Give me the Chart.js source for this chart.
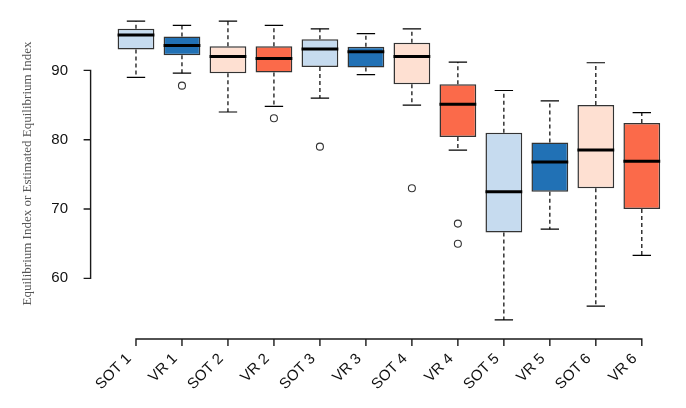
<!DOCTYPE html>
<html>
<head>
<meta charset="utf-8">
<script src="https://cdn.jsdelivr.net/npm/chart.js@4"></script>
<style>
  html, body { margin: 0; padding: 0; background: #fff; }
  #wrap { width: 686px; height: 408px; }
</style>
</head>
<body>
<div id="wrap"><canvas id="boxChart" width="686" height="408"></canvas></div>
<script>
// categories and box statistics
const categories = ['SOT 1', 'VR 1', 'SOT 2', 'VR 2', 'SOT 3', 'VR 3',
                    'SOT 4', 'VR 4', 'SOT 5', 'VR 5', 'SOT 6', 'VR 6'];
const whiskerLow  = [89.0, 89.6, 84.0, 84.8, 86.0, 89.4, 85.0, 78.5, 54.0, 67.1, 56.0, 63.3];
const q1          = [93.0, 92.2, 89.6, 89.7, 90.5, 90.4, 88.0, 80.4, 66.6, 72.5, 73.0, 70.0];
const median      = [95.1, 93.6, 92.0, 91.7, 93.1, 92.7, 92.0, 85.1, 72.5, 76.8, 78.5, 76.9];
const q3          = [96.0, 94.9, 93.5, 93.5, 94.5, 93.4, 94.0, 88.0, 81.0, 79.6, 85.0, 82.4];
const whiskerHigh = [97.1, 96.5, 97.1, 96.5, 96.0, 95.3, 96.0, 91.2, 87.1, 85.6, 91.1, 83.9];
const outliers    = [[], [87.8], [], [83.1], [79.0], [], [73.0], [67.9, 65.0], [], [], [], []];
const yTicks = [60, 70, 80, 90];

const boxColors = ['#c6dbef', '#2171b5', '#fee0d2', '#fb6a4a'];

const positions = categories.map((c, i) => i + 1);
const boxData = positions.map((x, i) => ({ x: x, y: [q1[i], q3[i]] }));
const outlierData = [];
outliers.forEach((vals, i) => vals.forEach(v => outlierData.push({ x: i + 1, y: v })));

// whiskers, caps, medians and R-style axes
const boxExtras = {
  id: 'boxExtras',
  afterDraw(chart) {
    const ctx = chart.ctx;
    const xs = chart.scales.x, ys = chart.scales.y;
    const meta = chart.getDatasetMeta(0);
    ctx.save();
    positions.forEach((pos, i) => {
      const half = meta.data[i].width / 2;
      const cx = xs.getPixelForValue(pos);
      // dashed whiskers
      ctx.strokeStyle = '#000';
      ctx.lineWidth = 1.2;
      ctx.setLineDash([4, 3]);
      ctx.beginPath();
      ctx.moveTo(cx, ys.getPixelForValue(q3[i]));
      ctx.lineTo(cx, ys.getPixelForValue(whiskerHigh[i]));
      ctx.moveTo(cx, ys.getPixelForValue(q1[i]));
      ctx.lineTo(cx, ys.getPixelForValue(whiskerLow[i]));
      ctx.stroke();
      // caps
      ctx.setLineDash([]);
      ctx.beginPath();
      [whiskerHigh[i], whiskerLow[i]].forEach(v => {
        const py = ys.getPixelForValue(v);
        ctx.moveTo(cx - half / 2, py);
        ctx.lineTo(cx + half / 2, py);
      });
      ctx.stroke();
      // median
      ctx.lineWidth = 3;
      ctx.beginPath();
      const my = ys.getPixelForValue(median[i]);
      ctx.moveTo(cx - half, my);
      ctx.lineTo(cx + half, my);
      ctx.stroke();
    });

    ctx.setLineDash([]);
    ctx.strokeStyle = '#1a1a1a';
    ctx.lineWidth = 1.4;
    ctx.lineJoin = 'miter';
    // y axis: bracket from the 90 tick down to the 60 tick, plus middle ticks
    const left = chart.chartArea.left + 0.6;
    const yTop = ys.getPixelForValue(yTicks[yTicks.length - 1]);
    const yBot = ys.getPixelForValue(yTicks[0]);
    ctx.beginPath();
    ctx.moveTo(left - 7, yTop);
    ctx.lineTo(left, yTop);
    ctx.lineTo(left, yBot);
    ctx.lineTo(left - 7, yBot);
    ctx.stroke();
    ctx.beginPath();
    yTicks.slice(1, -1).forEach(v => {
      const py = ys.getPixelForValue(v);
      ctx.moveTo(left, py);
      ctx.lineTo(left - 7, py);
    });
    ctx.stroke();

    // x axis: line from first to last category, with tick marks
    const bottom = chart.chartArea.bottom;
    ctx.beginPath();
    ctx.moveTo(xs.getPixelForValue(1), bottom + 7);
    ctx.lineTo(xs.getPixelForValue(1), bottom);
    ctx.lineTo(xs.getPixelForValue(categories.length), bottom);
    ctx.lineTo(xs.getPixelForValue(categories.length), bottom + 7);
    positions.slice(1, -1).forEach(p => {
      const px = xs.getPixelForValue(p);
      ctx.moveTo(px, bottom);
      ctx.lineTo(px, bottom + 7);
    });
    ctx.stroke();
    ctx.restore();
  }
};

const ctx = document.getElementById('boxChart').getContext('2d');
const chart = new Chart(ctx, {
  type: 'bar',
  data: {
    datasets: [{
      type: 'bar',
      data: boxData,
      backgroundColor: positions.map((p, i) => boxColors[i % 4]),
      borderColor: '#333',
      borderWidth: 1.5,
      borderSkipped: false,
      barPercentage: 0.8,
      categoryPercentage: 1.0
    }, {
      type: 'line',
      data: outlierData,
      showLine: false,
      pointStyle: 'circle',
      pointRadius: 3.5,
      pointBorderWidth: 1.1,
      pointBorderColor: '#333',
      pointBackgroundColor: 'rgba(255,255,255,0)'
    }]
  },
  options: {
    responsive: false,
    animation: false,
    layout: { padding: { top: 8, right: 1, left: 0, bottom: 0 } },
    plugins: { legend: { display: false }, tooltip: { enabled: false } },
    scales: {
      x: {
        type: 'linear',
        offset: false,
        min: 0,
        max: 12.85,
        afterBuildTicks: axis => { axis.ticks = positions.map(v => ({ value: v })); },
        afterFit: axis => { axis.height = 69; axis.paddingLeft = 0; axis.paddingRight = 0; },
        border: { display: false },
        grid: { display: false },
        ticks: {
          autoSkip: false,
          minRotation: 45,
          maxRotation: 45,
          padding: 3,
          labelOffset: -7,
          color: '#111',
          font: { family: 'Liberation Sans', size: 15 },
          callback: v => categories[v - 1]
        }
      },
      y: {
        min: 51.25,
        max: 99,
        afterBuildTicks: axis => { axis.ticks = yTicks.map(v => ({ value: v })); },
        afterFit: axis => { axis.width = 90; axis.paddingTop = 0; axis.paddingBottom = 0; },
        border: { display: false },
        grid: { display: false },
        ticks: {
          padding: 14,
          color: '#111',
          font: { family: 'Liberation Sans', size: 15 }
        },
        title: {
          display: true,
          text: 'Equilibrium Index or Estimated Equilibrium Index',
          color: '#555',
          font: { family: 'Liberation Serif', size: 13 },
          padding: { top: 20, bottom: 0 }
        }
      }
    }
  },
  plugins: [boxExtras]
});
</script>
</body>
</html>
